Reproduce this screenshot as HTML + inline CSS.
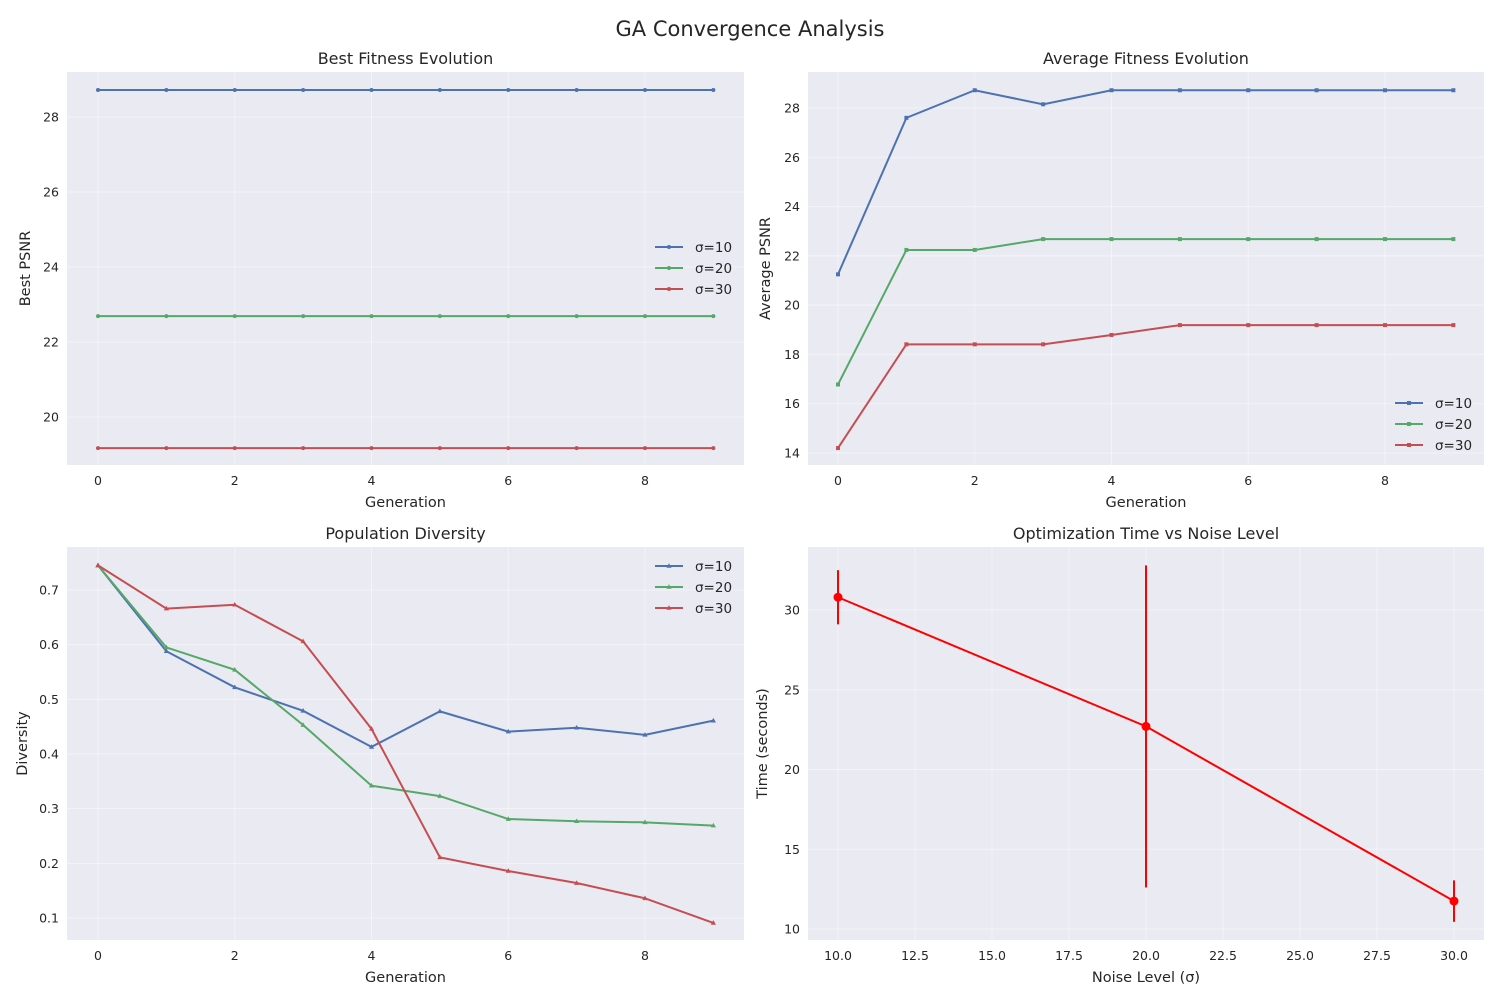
<!DOCTYPE html>
<html><head><meta charset="utf-8"><style>
body{margin:0;background:#fff;}
svg{display:block;font-family:"DejaVu Sans","Liberation Sans",sans-serif;}
</style></head><body>
<svg id="fig" width="1500" height="1000">
<text x="750" y="36" text-anchor="middle" font-size="21" fill="#262626">GA Convergence Analysis</text>
</svg>
<script>
const gens=[0,1,2,3,4,5,6,7,8,9];
const seriesLabels=['σ=10','σ=20','σ=30'];
const bestS10=[28.72,28.72,28.72,28.72,28.72,28.72,28.72,28.72,28.72,28.72];
const bestS20=[22.69,22.69,22.69,22.69,22.69,22.69,22.69,22.69,22.69,22.69];
const bestS30=[19.17,19.17,19.17,19.17,19.17,19.17,19.17,19.17,19.17,19.17];
const avgS10=[21.25,27.6,28.72,28.15,28.72,28.72,28.72,28.72,28.72,28.72];
const avgS20=[16.78,22.24,22.24,22.68,22.68,22.68,22.68,22.68,22.68,22.68];
const avgS30=[14.2,18.41,18.41,18.41,18.79,19.19,19.19,19.19,19.19,19.19];
const divS10=[0.745,0.588,0.522,0.479,0.413,0.478,0.441,0.448,0.435,0.461];
const divS20=[0.745,0.595,0.554,0.453,0.342,0.323,0.281,0.277,0.275,0.269];
const divS30=[0.745,0.666,0.673,0.606,0.446,0.211,0.186,0.164,0.136,0.091];
const noiseLevels=[10,20,30];
const timeMeans=[30.8,22.7,11.75];
const timeErrs=[1.7,10.1,1.3];
const genTicks=[0,2,4,6,8];
const bestTicks=[20,22,24,26,28];
const avgTicks=[14,16,18,20,22,24,26,28];
const divTicks=[0.1,0.2,0.3,0.4,0.5,0.6,0.7];
const noiseTicks=[10,12.5,15,17.5,20,22.5,25,27.5,30];
const timeTicks=[10,15,20,25,30];
const colors=['#4c72b0','#55a868','#c44e52'];

const NS='http://www.w3.org/2000/svg';
const fig=document.getElementById('fig');
function mk(tag,attrs,parent){const e=document.createElementNS(NS,tag);for(const k in attrs)e.setAttribute(k,attrs[k]);(parent||fig).appendChild(e);return e;}
function lin(d0,d1,r0,r1){return v=>r0+(v-d0)*(r1-r0)/(d1-d0);}

function panel(o){
  const g=mk('g',{});
  
  
  const bg=mk('rect',{x:o.x0,y:o.y0,width:o.x1-o.x0,height:o.y1-o.y0,fill:'#eaeaf2'},g);
  
  
  const sx=lin(o.xd[0],o.xd[1],o.xr[0],o.xr[1]);
  const sy=lin(o.yd[0],o.yd[1],o.yr[0],o.yr[1]);
  o.xticks.forEach(t=>{const X=sx(t);
    mk('line',{x1:X,x2:X,y1:o.y0,y2:o.y1,stroke:'#fff','stroke-width':1,'stroke-opacity':0.45},g);
    const tx=mk('text',{x:X,y:o.y1+20,'text-anchor':'middle','font-size':12.5,fill:'#262626'},g);
    tx.textContent=o.xfmt?o.xfmt(t):t;
    
    });
  o.yticks.forEach(t=>{const Y=sy(t);
    mk('line',{x1:o.x0,x2:o.x1,y1:Y,y2:Y,stroke:'#fff','stroke-width':1,'stroke-opacity':0.45},g);
    const tx=mk('text',{x:o.x0-8,y:Y+4.5,'text-anchor':'end','font-size':12.5,fill:'#262626'},g);
    tx.textContent=o.yfmt?o.yfmt(t):t;
    
    });
  const ti=mk('text',{x:(o.x0+o.x1)/2,y:o.y0-8,'text-anchor':'middle','font-size':16,fill:'#262626'},g);
  ti.textContent=o.title;
  
  
  const xl=mk('text',{x:(o.x0+o.x1)/2,y:o.y1+42,'text-anchor':'middle','font-size':14.5,fill:'#262626'},g);
  xl.textContent=o.xlabel;
  
  
  const yx=o.x0-40, yy=(o.y0+o.y1)/2;
  const yl=mk('text',{x:yx+o.ylOff,y:yy,'text-anchor':'middle','font-size':14.5,fill:'#262626',transform:`rotate(-90 ${yx+o.ylOff} ${yy})`},g);
  yl.textContent=o.ylabel;
  
  
  return {g,sx,sy};
}
function marker(g,kind,x,y,c){
  let m;
  if(kind==='s') m=mk('rect',{x:x-2,y:y-2,width:4,height:4,fill:c},g);
  else if(kind==='^') m=mk('polygon',{points:`${x},${y-2.8} ${x-2.6},${y+1.8} ${x+2.6},${y+1.8}`,fill:c},g);
  else m=mk('circle',{cx:x,cy:y,r:2,fill:c},g);
  
  
}
function series(p,xs,ys,c,kind,name){
  const pl=mk('polyline',{points:xs.map((x,i)=>p.sx(x)+','+p.sy(ys[i])).join(' '),fill:'none',stroke:c,'stroke-width':2},p.g);
  
  
  xs.forEach((x,i)=>marker(p.g,kind,p.sx(x),p.sy(ys[i]),c));
}
function legend(p,x,y,kind){
  seriesLabels.forEach((l,i)=>{const Y=y+i*21;
    const ln=mk('line',{x1:x,x2:x+28,y1:Y,y2:Y,stroke:colors[i],'stroke-width':2},p.g);
    
    
    marker(p.g,kind,x+14,Y,colors[i]);
    const t=mk('text',{x:x+40,y:Y+5,'font-size':13.5,fill:'#262626'},p.g);
    t.textContent=l;
    
    });
}

// Panel 1
let p=panel({name:'best-fitness-panel',x0:67,x1:744,y0:72,y1:465,xd:[0,8],xr:[98,645],yd:[20,28],yr:[417,117],xticks:genTicks,yticks:bestTicks,title:'Best Fitness Evolution',xlabel:'Generation',ylabel:'Best PSNR',ylOff:3});
series(p,gens,bestS10,colors[0],'o','line-sigma10');
series(p,gens,bestS20,colors[1],'o','line-sigma20');
series(p,gens,bestS30,colors[2],'o','line-sigma30');
legend(p,655,247,'o');

// Panel 2
p=panel({name:'average-fitness-panel',x0:808,x1:1484,y0:72,y1:465,xd:[0,8],xr:[838,1385],yd:[14,28],yr:[453,108],xticks:genTicks,yticks:avgTicks,title:'Average Fitness Evolution',xlabel:'Generation',ylabel:'Average PSNR',ylOff:2});
series(p,gens,avgS10,colors[0],'s','line-sigma10');
series(p,gens,avgS20,colors[1],'s','line-sigma20');
series(p,gens,avgS30,colors[2],'s','line-sigma30');
legend(p,1395,403,'s');

// Panel 3
p=panel({name:'diversity-panel',x0:67,x1:744,y0:547,y1:940,xd:[0,8],xr:[98,645],yd:[0.1,0.7],yr:[918,590],xticks:genTicks,yticks:divTicks,title:'Population Diversity',xlabel:'Generation',ylabel:'Diversity',ylOff:0,yfmt:t=>t.toFixed(1)});
series(p,gens,divS10,colors[0],'^','line-sigma10');
series(p,gens,divS20,colors[1],'^','line-sigma20');
series(p,gens,divS30,colors[2],'^','line-sigma30');
legend(p,655,566,'^');

// Panel 4
p=panel({name:'time-vs-noise-panel',x0:808,x1:1484,y0:547,y1:940,xd:[10,30],xr:[838,1454],yd:[10,30],yr:[929,610],xticks:noiseTicks,yticks:timeTicks,title:'Optimization Time vs Noise Level',xlabel:'Noise Level (σ)',ylabel:'Time (seconds)',ylOff:-1,xfmt:t=>t.toFixed(1)});
const eb=mk('polyline',{points:noiseLevels.map((x,i)=>p.sx(x)+','+p.sy(timeMeans[i])).join(' '),fill:'none',stroke:'#ff0000','stroke-width':2},p.g);


noiseLevels.forEach((x,i)=>{
  const X=p.sx(x);
  const e=mk('line',{x1:X,x2:X,y1:p.sy(timeMeans[i]+timeErrs[i]),y2:p.sy(timeMeans[i]-timeErrs[i]),stroke:'#ff0000','stroke-width':2},p.g);
  
  
  const c=mk('circle',{cx:X,cy:p.sy(timeMeans[i]),r:4.5,fill:'#ff0000'},p.g);
  
  
});
</script>
</body></html>
